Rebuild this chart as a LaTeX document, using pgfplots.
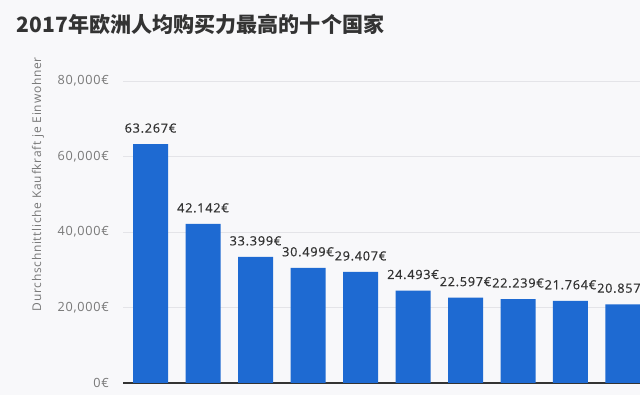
\documentclass[border=0pt]{standalone}
\usepackage{pgfplots}
\pgfplotsset{compat=1.18}
\usepackage{fontspec}
\setmainfont{Open Sans}[LetterSpace=6]
\newfontfamily\lab{Open Sans}[LetterSpace=6, FakeBold=0.5]
\newfontfamily\cjk{Noto Sans CJK SC}
\definecolor{barblue}{RGB}{30,106,210}
\definecolor{bg}{RGB}{248,248,250}
\definecolor{titlec}{RGB}{51,51,51}
\definecolor{tickc}{RGB}{120,120,120}
\definecolor{gridc}{RGB}{228,228,232}
\begin{document}
\begin{tikzpicture}
\path[use as bounding box, fill=bg] (0,0) rectangle (480pt,296.25pt);
\node[anchor=base west, inner sep=0, font=\cjk\bfseries\fontsize{15.8}{18}\selectfont, text=titlec] at (12.5pt,271.5pt) {2017年欧洲人均购买力最高的十个国家};
\node[rotate=90, font=\fontsize{9}{10}\selectfont, text=tickc, inner sep=0] at (28.5pt,158pt) {Durchschnittliche Kaufkraft je Einwohner};
\begin{axis}[
  at={(92.25pt,9pt)}, anchor=south west, scale only axis,
  width=387.75pt, height=226.5pt,
  xmin=-0.524, xmax=9.324, ymin=0, ymax=80000,
  axis x line*=bottom, axis y line*=left,
  x axis line style={draw=titlec, line width=0.8pt},
  y axis line style={draw=none},
  xtick=\empty,
  scaled y ticks=false,
  ytick={0,20000,40000,60000,80000},
  yticklabels={{0€},{20,000€},{40,000€},{60,000€},{80,000€}},
  major tick length=0pt,
  yticklabel style={font=\fontsize{9.5}{10}\selectfont, text=tickc, xshift=-7pt},
  ymajorgrids, grid style={draw=gridc, line width=0.6pt},
  clip=false,
]
\addplot[ybar, bar width=26.25pt, bar shift=0pt, fill=barblue, draw=none,
  point meta=explicit symbolic,
  nodes near coords,
  nodes near coords style={font=\lab\fontsize{9.5}{10}\selectfont, text=titlec, anchor=south, yshift=5pt}]
  table[meta=lab] {
x y lab
0 63267 63.267€
1 42142 42.142€
2 33399 33.399€
3 30499 30.499€
4 29407 29.407€
5 24493 24.493€
6 22597 22.597€
7 22239 22.239€
8 21764 21.764€
9 20857 20.857€
};
\end{axis}
\end{tikzpicture}
\end{document}
